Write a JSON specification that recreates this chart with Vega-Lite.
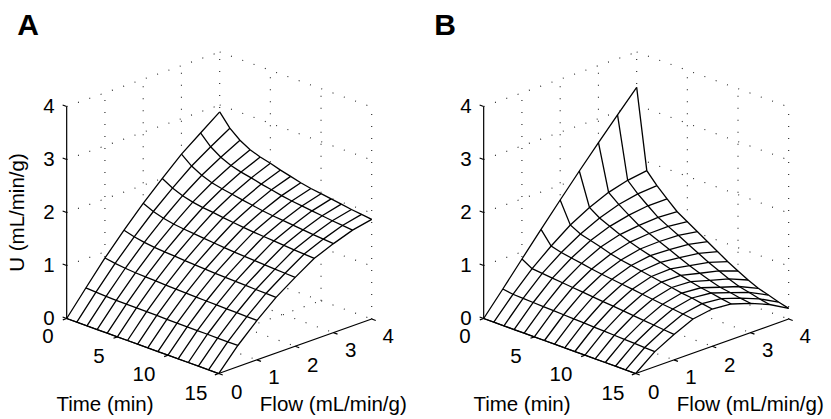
{"$schema":"https://vega.github.io/schema/vega-lite/v6.json","padding":0,"background":"white","config":{"view":{"stroke":null},"concat":{"spacing":0}},"bounds":"flush","spacing":0,
"datasets":{
"grid":[
{"line":"wu1","across":0,"height":1},{"line":"wu1","across":15.1,"height":2.028},
{"line":"wu2","across":0,"height":2},{"line":"wu2","across":15.1,"height":3.028},
{"line":"wu3","across":0,"height":3},{"line":"wu3","across":15.1,"height":4.028},
{"line":"wu4","across":0,"height":4},{"line":"wu4","across":15.1,"height":5.028},
{"line":"wf1","across":3.775,"height":0.257},{"line":"wf1","across":3.775,"height":4.257},
{"line":"wf2","across":7.55,"height":0.514},{"line":"wf2","across":7.55,"height":4.514},
{"line":"wf3","across":11.325,"height":0.771},{"line":"wf3","across":11.325,"height":4.771},
{"line":"wf4","across":15.1,"height":1.028},{"line":"wf4","across":15.1,"height":5.028},
{"line":"ru1","across":15.1,"height":2.028},{"line":"ru1","across":30.1,"height":0.99},
{"line":"ru2","across":15.1,"height":3.028},{"line":"ru2","across":30.1,"height":1.99},
{"line":"ru3","across":15.1,"height":4.028},{"line":"ru3","across":30.1,"height":2.99},
{"line":"ru4","across":15.1,"height":5.028},{"line":"ru4","across":30.1,"height":3.99},
{"line":"rt5","across":20.1,"height":0.682},{"line":"rt5","across":20.1,"height":4.682},
{"line":"rt10","across":25.1,"height":0.336},{"line":"rt10","across":25.1,"height":4.336},
{"line":"rt15","across":30.1,"height":-0.01},{"line":"rt15","across":30.1,"height":3.99},
{"line":"ft0","across":0,"height":0},{"line":"ft0","across":15.1,"height":1.028},
{"line":"ft5","across":5,"height":-0.346},{"line":"ft5","across":20.1,"height":0.682},
{"line":"ft10","across":10,"height":-0.692},{"line":"ft10","across":25.1,"height":0.336},
{"line":"ff1","across":3.775,"height":0.257},{"line":"ff1","across":18.775,"height":-0.781},
{"line":"ff2","across":7.55,"height":0.514},{"line":"ff2","across":22.55,"height":-0.524},
{"line":"ff3","across":11.325,"height":0.771},{"line":"ff3","across":26.325,"height":-0.267},
{"line":"ff4","across":15.1,"height":1.028},{"line":"ff4","across":30.1,"height":-0.01}
],
"axes":[
{"line":"U","across":0,"height":0},{"line":"U","across":0,"height":4},
{"line":"Time","across":0,"height":0},{"line":"Time","across":15,"height":-1.038},
{"line":"Flow","across":15,"height":-1.038},{"line":"Flow","across":30.1,"height":-0.01},
{"line":"u0","across":0,"height":0},{"line":"u0","across":-0.4,"height":0.028},
{"line":"u1","across":0,"height":1},{"line":"u1","across":-0.4,"height":1.028},
{"line":"u2","across":0,"height":2},{"line":"u2","across":-0.4,"height":2.028},
{"line":"u3","across":0,"height":3},{"line":"u3","across":-0.4,"height":3.028},
{"line":"u4","across":0,"height":4},{"line":"u4","across":-0.4,"height":4.028},
{"line":"t0","across":0,"height":0},{"line":"t0","across":-0.38,"height":-0.026},
{"line":"t5","across":5,"height":-0.346},{"line":"t5","across":4.62,"height":-0.372},
{"line":"t10","across":10,"height":-0.692},{"line":"t10","across":9.62,"height":-0.718},
{"line":"t15","across":15,"height":-1.038},{"line":"t15","across":14.62,"height":-1.064},
{"line":"f0","across":15,"height":-1.038},{"line":"f0","across":15.4,"height":-1.066},
{"line":"f1","across":18.775,"height":-0.781},{"line":"f1","across":19.175,"height":-0.809},
{"line":"f2","across":22.55,"height":-0.524},{"line":"f2","across":22.95,"height":-0.552},
{"line":"f3","across":26.325,"height":-0.267},{"line":"f3","across":26.725,"height":-0.295},
{"line":"f4","across":30.1,"height":-0.01},{"line":"f4","across":30.5,"height":-0.038}
],
"tickLabels":[
{"label":"0","across":-1.84,"height":-0.33},{"label":"5","across":3.19,"height":-0.69},{"label":"10","across":7.63,"height":-1.03},{"label":"15","across":12.76,"height":-1.39},
{"label":"0","across":16.78,"height":-1.38},{"label":"1","across":20.46,"height":-1.10},{"label":"2","across":24.28,"height":-0.86},{"label":"3","across":28.03,"height":-0.59},{"label":"4","across":31.74,"height":-0.33}
],
"axisTitles":[
{"label":"Time (min)","across":3.78,"height":-1.60},{"label":"Flow (mL/min/g)","across":26.31,"height":-1.61}
],
"panelLetters":[{"panel":"A","across":-3.82,"height":5.52},{"panel":"B","across":-3.82,"height":5.52}],
"outlineA":[
{"step":1,"across":0,"height":0},{"step":2,"across":1.89,"height":0.576},{"step":3,"across":3.78,"height":1.142},{"step":4,"across":5.66,"height":1.666},{"step":5,"across":7.55,"height":2.174},{"step":6,"across":9.44,"height":2.643},{"step":7,"across":11.33,"height":3.101},{"step":8,"across":13.21,"height":3.5},{"step":9,"across":15.1,"height":3.898},
{"step":10,"across":16.1,"height":3.591},{"step":11,"across":17.1,"height":3.364},{"step":12,"across":18.1,"height":3.185},{"step":13,"across":19.1,"height":3.047},{"step":14,"across":20.1,"height":2.928},{"step":15,"across":21.1,"height":2.8},{"step":16,"across":22.1,"height":2.681},{"step":17,"across":23.1,"height":2.562},{"step":18,"across":24.1,"height":2.453},{"step":19,"across":25.1,"height":2.355},{"step":20,"across":26.1,"height":2.256},{"step":21,"across":27.1,"height":2.157},{"step":22,"across":28.1,"height":2.057},{"step":23,"across":29.1,"height":1.964},{"step":24,"across":30.1,"height":1.87},
{"step":25,"across":28.21,"height":1.667},{"step":26,"across":26.33,"height":1.413},{"step":27,"across":24.44,"height":1.135},{"step":28,"across":22.55,"height":0.776},{"step":29,"across":20.66,"height":0.398},{"step":30,"across":18.78,"height":-0.036},{"step":31,"across":16.89,"height":-0.509},{"step":32,"across":15,"height":-1.038}
],
"outlineB":[
{"step":1,"across":0,"height":0},{"step":2,"across":1.89,"height":0.557},{"step":3,"across":3.78,"height":1.123},{"step":4,"across":5.66,"height":1.683},{"step":5,"across":7.55,"height":2.236},{"step":6,"across":9.44,"height":2.783},{"step":7,"across":11.33,"height":3.317},{"step":8,"across":13.21,"height":3.84},{"step":9,"across":15.1,"height":4.362},
{"step":10,"across":16.1,"height":2.789},{"step":11,"across":17.1,"height":2.506},{"step":12,"across":18.1,"height":2.255},{"step":13,"across":19.1,"height":2.015},{"step":14,"across":20.1,"height":1.826},{"step":15,"across":21.1,"height":1.638},{"step":16,"across":22.1,"height":1.449},{"step":17,"across":23.1,"height":1.26},{"step":18,"across":24.1,"height":1.072},{"step":19,"across":25.1,"height":0.896},{"step":20,"across":26.1,"height":0.726},{"step":21,"across":27.1,"height":0.569},{"step":22,"across":28.1,"height":0.443},{"step":23,"across":29.1,"height":0.311},{"step":24,"across":30.1,"height":0.192},
{"step":25,"across":28.21,"height":0.264},{"step":26,"across":26.33,"height":0.287},{"step":27,"across":24.44,"height":0.274},{"step":28,"across":22.55,"height":0.179},{"step":29,"across":20.66,"height":-0.009},{"step":30,"across":18.78,"height":-0.30},{"step":31,"across":16.89,"height":-0.625},{"step":32,"across":15,"height":-1.038}
],
"surfaceA":[
{"time":0,"flow":0,"across":0,"height":0},{"time":1,"flow":0,"across":1,"height":-0.069},{"time":2,"flow":0,"across":2,"height":-0.138},{"time":3,"flow":0,"across":3,"height":-0.208},{"time":4,"flow":0,"across":4,"height":-0.277},{"time":5,"flow":0,"across":5,"height":-0.346},{"time":6,"flow":0,"across":6,"height":-0.415},{"time":7,"flow":0,"across":7,"height":-0.484},{"time":8,"flow":0,"across":8,"height":-0.554},{"time":9,"flow":0,"across":9,"height":-0.623},{"time":10,"flow":0,"across":10,"height":-0.692},{"time":11,"flow":0,"across":11,"height":-0.761},{"time":12,"flow":0,"across":12,"height":-0.83},{"time":13,"flow":0,"across":13,"height":-0.9},{"time":14,"flow":0,"across":14,"height":-0.969},{"time":15,"flow":0,"across":15,"height":-1.038},
{"time":0,"flow":0.5,"across":1.89,"height":0.576},{"time":1,"flow":0.5,"across":2.89,"height":0.496},{"time":2,"flow":0.5,"across":3.89,"height":0.419},{"time":3,"flow":0.5,"across":4.89,"height":0.344},{"time":4,"flow":0.5,"across":5.89,"height":0.272},{"time":5,"flow":0.5,"across":6.89,"height":0.2},{"time":6,"flow":0.5,"across":7.89,"height":0.129},{"time":7,"flow":0.5,"across":8.89,"height":0.057},{"time":8,"flow":0.5,"across":9.89,"height":-0.015},{"time":9,"flow":0.5,"across":10.89,"height":-0.086},{"time":10,"flow":0.5,"across":11.89,"height":-0.156},{"time":11,"flow":0.5,"across":12.89,"height":-0.227},{"time":12,"flow":0.5,"across":13.89,"height":-0.297},{"time":13,"flow":0.5,"across":14.89,"height":-0.369},{"time":14,"flow":0.5,"across":15.89,"height":-0.439},{"time":15,"flow":0.5,"across":16.89,"height":-0.509},
{"time":0,"flow":1,"across":3.78,"height":1.142},{"time":1,"flow":1,"across":4.78,"height":1.039},{"time":2,"flow":1,"across":5.78,"height":0.948},{"time":3,"flow":1,"across":6.78,"height":0.863},{"time":4,"flow":1,"across":7.78,"height":0.784},{"time":5,"flow":1,"across":8.78,"height":0.708},{"time":6,"flow":1,"across":9.78,"height":0.63},{"time":7,"flow":1,"across":10.78,"height":0.554},{"time":8,"flow":1,"across":11.78,"height":0.477},{"time":9,"flow":1,"across":12.78,"height":0.403},{"time":10,"flow":1,"across":13.78,"height":0.33},{"time":11,"flow":1,"across":14.78,"height":0.256},{"time":12,"flow":1,"across":15.78,"height":0.183},{"time":13,"flow":1,"across":16.78,"height":0.109},{"time":14,"flow":1,"across":17.78,"height":0.036},{"time":15,"flow":1,"across":18.78,"height":-0.036},
{"time":0,"flow":1.5,"across":5.66,"height":1.666},{"time":1,"flow":1.5,"across":6.66,"height":1.542},{"time":2,"flow":1.5,"across":7.66,"height":1.436},{"time":3,"flow":1.5,"across":8.66,"height":1.341},{"time":4,"flow":1.5,"across":9.66,"height":1.256},{"time":5,"flow":1.5,"across":10.66,"height":1.175},{"time":6,"flow":1.5,"across":11.66,"height":1.092},{"time":7,"flow":1.5,"across":12.66,"height":1.012},{"time":8,"flow":1.5,"across":13.66,"height":0.93},{"time":9,"flow":1.5,"across":14.66,"height":0.852},{"time":10,"flow":1.5,"across":15.66,"height":0.776},{"time":11,"flow":1.5,"across":16.66,"height":0.7},{"time":12,"flow":1.5,"across":17.66,"height":0.624},{"time":13,"flow":1.5,"across":18.66,"height":0.547},{"time":14,"flow":1.5,"across":19.66,"height":0.473},{"time":15,"flow":1.5,"across":20.66,"height":0.398},
{"time":0,"flow":2,"across":7.55,"height":2.174},{"time":1,"flow":2,"across":8.55,"height":2.019},{"time":2,"flow":2,"across":9.55,"height":1.892},{"time":3,"flow":2,"across":10.55,"height":1.782},{"time":4,"flow":2,"across":11.55,"height":1.688},{"time":5,"flow":2,"across":12.55,"height":1.601},{"time":6,"flow":2,"across":13.55,"height":1.511},{"time":7,"flow":2,"across":14.55,"height":1.424},{"time":8,"flow":2,"across":15.55,"height":1.336},{"time":9,"flow":2,"across":16.55,"height":1.252},{"time":10,"flow":2,"across":17.55,"height":1.172},{"time":11,"flow":2,"across":18.55,"height":1.093},{"time":12,"flow":2,"across":19.55,"height":1.013},{"time":13,"flow":2,"across":20.55,"height":0.932},{"time":14,"flow":2,"across":21.55,"height":0.854},{"time":15,"flow":2,"across":22.55,"height":0.776},
{"time":0,"flow":2.5,"across":9.44,"height":2.643},{"time":1,"flow":2.5,"across":10.44,"height":2.461},{"time":2,"flow":2.5,"across":11.44,"height":2.317},{"time":3,"flow":2.5,"across":12.44,"height":2.195},{"time":4,"flow":2.5,"across":13.44,"height":2.093},{"time":5,"flow":2.5,"across":14.44,"height":2.001},{"time":6,"flow":2.5,"across":15.44,"height":1.904},{"time":7,"flow":2.5,"across":16.44,"height":1.811},{"time":8,"flow":2.5,"across":17.44,"height":1.718},{"time":9,"flow":2.5,"across":18.44,"height":1.63},{"time":10,"flow":2.5,"across":19.44,"height":1.547},{"time":11,"flow":2.5,"across":20.44,"height":1.464},{"time":12,"flow":2.5,"across":21.44,"height":1.381},{"time":13,"flow":2.5,"across":22.44,"height":1.296},{"time":14,"flow":2.5,"across":23.44,"height":1.216},{"time":15,"flow":2.5,"across":24.44,"height":1.135},
{"time":0,"flow":3,"across":11.33,"height":3.101},{"time":1,"flow":3,"across":12.33,"height":2.876},{"time":2,"flow":3,"across":13.33,"height":2.703},{"time":3,"flow":3,"across":14.33,"height":2.561},{"time":4,"flow":3,"across":15.33,"height":2.447},{"time":5,"flow":3,"across":16.33,"height":2.345},{"time":6,"flow":3,"across":17.33,"height":2.237},{"time":7,"flow":3,"across":18.33,"height":2.136},{"time":8,"flow":3,"across":19.33,"height":2.033},{"time":9,"flow":3,"across":20.33,"height":1.938},{"time":10,"flow":3,"across":21.33,"height":1.85},{"time":11,"flow":3,"across":22.33,"height":1.761},{"time":12,"flow":3,"across":23.33,"height":1.673},{"time":13,"flow":3,"across":24.33,"height":1.583},{"time":14,"flow":3,"across":25.33,"height":1.498},{"time":15,"flow":3,"across":26.33,"height":1.413},
{"time":0,"flow":3.5,"across":13.21,"height":3.5},{"time":1,"flow":3.5,"across":14.21,"height":3.24},{"time":2,"flow":3.5,"across":15.21,"height":3.044},{"time":3,"flow":3.5,"across":16.21,"height":2.887},{"time":4,"flow":3.5,"across":17.21,"height":2.762},{"time":5,"flow":3.5,"across":18.21,"height":2.653},{"time":6,"flow":3.5,"across":19.21,"height":2.536},{"time":7,"flow":3.5,"across":20.21,"height":2.428},{"time":8,"flow":3.5,"across":21.21,"height":2.318},{"time":9,"flow":3.5,"across":22.21,"height":2.217},{"time":10,"flow":3.5,"across":23.21,"height":2.124},{"time":11,"flow":3.5,"across":24.21,"height":2.031},{"time":12,"flow":3.5,"across":25.21,"height":1.939},{"time":13,"flow":3.5,"across":26.21,"height":1.845},{"time":14,"flow":3.5,"across":27.21,"height":1.756},{"time":15,"flow":3.5,"across":28.21,"height":1.667},
{"time":0,"flow":4,"across":15.1,"height":3.898},{"time":1,"flow":4,"across":16.1,"height":3.591},{"time":2,"flow":4,"across":17.1,"height":3.364},{"time":3,"flow":4,"across":18.1,"height":3.185},{"time":4,"flow":4,"across":19.1,"height":3.047},{"time":5,"flow":4,"across":20.1,"height":2.928},{"time":6,"flow":4,"across":21.1,"height":2.8},{"time":7,"flow":4,"across":22.1,"height":2.681},{"time":8,"flow":4,"across":23.1,"height":2.562},{"time":9,"flow":4,"across":24.1,"height":2.453},{"time":10,"flow":4,"across":25.1,"height":2.355},{"time":11,"flow":4,"across":26.1,"height":2.256},{"time":12,"flow":4,"across":27.1,"height":2.157},{"time":13,"flow":4,"across":28.1,"height":2.057},{"time":14,"flow":4,"across":29.1,"height":1.964},{"time":15,"flow":4,"across":30.1,"height":1.87}
],
"surfaceB":[
{"time":0,"flow":0,"across":0,"height":0},{"time":1,"flow":0,"across":1,"height":-0.069},{"time":2,"flow":0,"across":2,"height":-0.138},{"time":3,"flow":0,"across":3,"height":-0.208},{"time":4,"flow":0,"across":4,"height":-0.277},{"time":5,"flow":0,"across":5,"height":-0.346},{"time":6,"flow":0,"across":6,"height":-0.415},{"time":7,"flow":0,"across":7,"height":-0.484},{"time":8,"flow":0,"across":8,"height":-0.554},{"time":9,"flow":0,"across":9,"height":-0.623},{"time":10,"flow":0,"across":10,"height":-0.692},{"time":11,"flow":0,"across":11,"height":-0.761},{"time":12,"flow":0,"across":12,"height":-0.83},{"time":13,"flow":0,"across":13,"height":-0.9},{"time":14,"flow":0,"across":14,"height":-0.969},{"time":15,"flow":0,"across":15,"height":-1.038},
{"time":0,"flow":0.5,"across":1.89,"height":0.557},{"time":1,"flow":0.5,"across":2.89,"height":0.457},{"time":2,"flow":0.5,"across":3.89,"height":0.38},{"time":3,"flow":0.5,"across":4.89,"height":0.302},{"time":4,"flow":0.5,"across":5.89,"height":0.225},{"time":5,"flow":0.5,"across":6.89,"height":0.148},{"time":6,"flow":0.5,"across":7.89,"height":0.071},{"time":7,"flow":0.5,"across":8.89,"height":-0.007},{"time":8,"flow":0.5,"across":9.89,"height":-0.084},{"time":9,"flow":0.5,"across":10.89,"height":-0.161},{"time":10,"flow":0.5,"across":11.89,"height":-0.239},{"time":11,"flow":0.5,"across":12.89,"height":-0.316},{"time":12,"flow":0.5,"across":13.89,"height":-0.393},{"time":13,"flow":0.5,"across":14.89,"height":-0.47},{"time":14,"flow":0.5,"across":15.89,"height":-0.548},{"time":15,"flow":0.5,"across":16.89,"height":-0.625},
{"time":0,"flow":1,"across":3.78,"height":1.123},{"time":1,"flow":1,"across":4.78,"height":0.94},{"time":2,"flow":1,"across":5.78,"height":0.852},{"time":3,"flow":1,"across":6.78,"height":0.763},{"time":4,"flow":1,"across":7.78,"height":0.675},{"time":5,"flow":1,"across":8.78,"height":0.585},{"time":6,"flow":1,"across":9.78,"height":0.497},{"time":7,"flow":1,"across":10.78,"height":0.408},{"time":8,"flow":1,"across":11.78,"height":0.32},{"time":9,"flow":1,"across":12.78,"height":0.232},{"time":10,"flow":1,"across":13.78,"height":0.143},{"time":11,"flow":1,"across":14.78,"height":0.055},{"time":12,"flow":1,"across":15.78,"height":-0.035},{"time":13,"flow":1,"across":16.78,"height":-0.123},{"time":14,"flow":1,"across":17.78,"height":-0.212},{"time":15,"flow":1,"across":18.78,"height":-0.3},
{"time":0,"flow":1.5,"across":5.66,"height":1.683},{"time":1,"flow":1.5,"across":6.66,"height":1.368},{"time":2,"flow":1.5,"across":7.66,"height":1.245},{"time":3,"flow":1.5,"across":8.66,"height":1.142},{"time":4,"flow":1.5,"across":9.66,"height":1.04},{"time":5,"flow":1.5,"across":10.66,"height":0.934},{"time":6,"flow":1.5,"across":11.66,"height":0.835},{"time":7,"flow":1.5,"across":12.66,"height":0.741},{"time":8,"flow":1.5,"across":13.66,"height":0.646},{"time":9,"flow":1.5,"across":14.66,"height":0.553},{"time":10,"flow":1.5,"across":15.66,"height":0.458},{"time":11,"flow":1.5,"across":16.66,"height":0.364},{"time":12,"flow":1.5,"across":17.66,"height":0.269},{"time":13,"flow":1.5,"across":18.66,"height":0.18},{"time":14,"flow":1.5,"across":19.66,"height":0.085},{"time":15,"flow":1.5,"across":20.66,"height":-0.009},
{"time":0,"flow":2,"across":7.55,"height":2.236},{"time":1,"flow":2,"across":8.55,"height":1.765},{"time":2,"flow":2,"across":9.55,"height":1.595},{"time":3,"flow":2,"across":10.55,"height":1.472},{"time":4,"flow":2,"across":11.55,"height":1.349},{"time":5,"flow":2,"across":12.55,"height":1.218},{"time":6,"flow":2,"across":13.55,"height":1.104},{"time":7,"flow":2,"across":14.55,"height":1.001},{"time":8,"flow":2,"across":15.55,"height":0.896},{"time":9,"flow":2,"across":16.55,"height":0.793},{"time":10,"flow":2,"across":17.55,"height":0.688},{"time":11,"flow":2,"across":18.55,"height":0.585},{"time":12,"flow":2,"across":19.55,"height":0.48},{"time":13,"flow":2,"across":20.55,"height":0.387},{"time":14,"flow":2,"across":21.55,"height":0.282},{"time":15,"flow":2,"across":22.55,"height":0.179},
{"time":0,"flow":2.5,"across":9.44,"height":2.783},{"time":1,"flow":2.5,"across":10.44,"height":2.094},{"time":2,"flow":2.5,"across":11.44,"height":1.897},{"time":3,"flow":2.5,"across":12.44,"height":1.739},{"time":4,"flow":2.5,"across":13.44,"height":1.584},{"time":5,"flow":2.5,"across":14.44,"height":1.442},{"time":6,"flow":2.5,"across":15.44,"height":1.311},{"time":7,"flow":2.5,"across":16.44,"height":1.186},{"time":8,"flow":2.5,"across":17.44,"height":1.06},{"time":9,"flow":2.5,"across":18.44,"height":0.935},{"time":10,"flow":2.5,"across":19.44,"height":0.813},{"time":11,"flow":2.5,"across":20.44,"height":0.694},{"time":12,"flow":2.5,"across":21.44,"height":0.58},{"time":13,"flow":2.5,"across":22.44,"height":0.481},{"time":14,"flow":2.5,"across":23.44,"height":0.374},{"time":15,"flow":2.5,"across":24.44,"height":0.274},
{"time":0,"flow":3,"across":11.33,"height":3.317},{"time":1,"flow":3,"across":12.33,"height":2.38},{"time":2,"flow":3,"across":13.33,"height":2.152},{"time":3,"flow":3,"across":14.33,"height":1.951},{"time":4,"flow":3,"across":15.33,"height":1.756},{"time":5,"flow":3,"across":16.33,"height":1.604},{"time":6,"flow":3,"across":17.33,"height":1.453},{"time":7,"flow":3,"across":18.33,"height":1.3},{"time":8,"flow":3,"across":19.33,"height":1.147},{"time":9,"flow":3,"across":20.33,"height":0.997},{"time":10,"flow":3,"across":21.33,"height":0.854},{"time":11,"flow":3,"across":22.33,"height":0.718},{"time":12,"flow":3,"across":23.33,"height":0.59},{"time":13,"flow":3,"across":24.33,"height":0.49},{"time":14,"flow":3,"across":25.33,"height":0.383},{"time":15,"flow":3,"across":26.33,"height":0.287},
{"time":0,"flow":3.5,"across":13.21,"height":3.84},{"time":1,"flow":3.5,"across":14.21,"height":2.607},{"time":2,"flow":3.5,"across":15.21,"height":2.352},{"time":3,"flow":3.5,"across":16.21,"height":2.127},{"time":4,"flow":3.5,"across":17.21,"height":1.909},{"time":5,"flow":3.5,"across":18.21,"height":1.738},{"time":6,"flow":3.5,"across":19.21,"height":1.569},{"time":7,"flow":3.5,"across":20.21,"height":1.398},{"time":8,"flow":3.5,"across":21.21,"height":1.227},{"time":9,"flow":3.5,"across":22.21,"height":1.058},{"time":10,"flow":3.5,"across":23.21,"height":0.899},{"time":11,"flow":3.5,"across":24.21,"height":0.747},{"time":12,"flow":3.5,"across":25.21,"height":0.604},{"time":13,"flow":3.5,"across":26.21,"height":0.491},{"time":14,"flow":3.5,"across":27.21,"height":0.372},{"time":15,"flow":3.5,"across":28.21,"height":0.264},
{"time":0,"flow":4,"across":15.1,"height":4.362},{"time":1,"flow":4,"across":16.1,"height":2.789},{"time":2,"flow":4,"across":17.1,"height":2.506},{"time":3,"flow":4,"across":18.1,"height":2.255},{"time":4,"flow":4,"across":19.1,"height":2.015},{"time":5,"flow":4,"across":20.1,"height":1.826},{"time":6,"flow":4,"across":21.1,"height":1.638},{"time":7,"flow":4,"across":22.1,"height":1.449},{"time":8,"flow":4,"across":23.1,"height":1.26},{"time":9,"flow":4,"across":24.1,"height":1.072},{"time":10,"flow":4,"across":25.1,"height":0.896},{"time":11,"flow":4,"across":26.1,"height":0.726},{"time":12,"flow":4,"across":27.1,"height":0.569},{"time":13,"flow":4,"across":28.1,"height":0.443},{"time":14,"flow":4,"across":29.1,"height":0.311},{"time":15,"flow":4,"across":30.1,"height":0.192}
]
},
"hconcat":[
{"width":417,"height":419,
"encoding":{"x":{"field":"across","type":"quantitative","scale":{"domain":[-6.58,34.57],"nice":false,"zero":false},"axis":null},
"y":{"field":"height","type":"quantitative","scale":{"domain":[-1.896,6.009],"nice":false,"zero":false},"axis":{"orient":"left","offset":-66.7,"values":[0,1,2,3,4],"domain":false,"grid":false,"ticks":false,"labelPadding":12.5,"labelFont":"Liberation Sans","labelFontSize":20.5,"labelColor":"#000","title":"U (mL/min/g)","titleFont":"Liberation Sans","titleFontSize":20.5,"titleFontWeight":"normal","titleColor":"#000","titleX":-39,"titleY":212}}},
"layer":[
{"data":{"name":"grid"},"mark":{"type":"line","stroke":"#222","strokeWidth":1.1,"strokeDash":[1,11]},"encoding":{"detail":{"field":"line"}}},
{"data":{"name":"outlineA"},"mark":{"type":"line","stroke":null,"fill":"white"},"encoding":{"order":{"field":"step","type":"quantitative"}}},
{"data":{"name":"surfaceA"},"mark":{"type":"line","stroke":"#000","strokeWidth":1.3},"encoding":{"detail":{"field":"time"},"order":{"field":"flow","type":"quantitative"}}},
{"data":{"name":"surfaceA"},"mark":{"type":"line","stroke":"#000","strokeWidth":1.3},"encoding":{"detail":{"field":"flow"},"order":{"field":"time","type":"quantitative"}}},
{"data":{"name":"axes"},"mark":{"type":"line","stroke":"#000","strokeWidth":1.2},"encoding":{"detail":{"field":"line"}}},
{"data":{"name":"tickLabels"},"mark":{"type":"text","font":"Liberation Sans","fontSize":20.5,"color":"#000","align":"center","baseline":"middle","dy":1.5},"encoding":{"text":{"field":"label"}}},
{"data":{"name":"axisTitles"},"mark":{"type":"text","font":"Liberation Sans","fontSize":20.5,"color":"#000","align":"center","baseline":"middle","dy":1.5},"encoding":{"text":{"field":"label"}}},
{"data":{"name":"panelLetters"},"transform":[{"filter":{"field":"panel","equal":"A"}}],"mark":{"type":"text","font":"Liberation Sans","fontSize":30,"fontWeight":"bold","color":"#000","align":"center","baseline":"middle"},"encoding":{"text":{"field":"panel"}}}
]},
{"width":414,"height":419,
"encoding":{"x":{"field":"across","type":"quantitative","scale":{"domain":[-6.58,34.277],"nice":false,"zero":false},"axis":null},
"y":{"field":"height","type":"quantitative","scale":{"domain":[-1.896,6.009],"nice":false,"zero":false},"axis":{"orient":"left","offset":-66.7,"values":[0,1,2,3,4],"domain":false,"grid":false,"ticks":false,"labelPadding":12.5,"labelFont":"Liberation Sans","labelFontSize":20.5,"labelColor":"#000","title":null}}},
"layer":[
{"data":{"name":"grid"},"mark":{"type":"line","stroke":"#222","strokeWidth":1.1,"strokeDash":[1,11]},"encoding":{"detail":{"field":"line"}}},
{"data":{"name":"outlineB"},"mark":{"type":"line","stroke":null,"fill":"white"},"encoding":{"order":{"field":"step","type":"quantitative"}}},
{"data":{"name":"surfaceB"},"mark":{"type":"line","stroke":"#000","strokeWidth":1.3},"encoding":{"detail":{"field":"time"},"order":{"field":"flow","type":"quantitative"}}},
{"data":{"name":"surfaceB"},"mark":{"type":"line","stroke":"#000","strokeWidth":1.3},"encoding":{"detail":{"field":"flow"},"order":{"field":"time","type":"quantitative"}}},
{"data":{"name":"axes"},"mark":{"type":"line","stroke":"#000","strokeWidth":1.2},"encoding":{"detail":{"field":"line"}}},
{"data":{"name":"tickLabels"},"mark":{"type":"text","font":"Liberation Sans","fontSize":20.5,"color":"#000","align":"center","baseline":"middle","dy":1.5},"encoding":{"text":{"field":"label"}}},
{"data":{"name":"axisTitles"},"mark":{"type":"text","font":"Liberation Sans","fontSize":20.5,"color":"#000","align":"center","baseline":"middle","dy":1.5},"encoding":{"text":{"field":"label"}}},
{"data":{"name":"panelLetters"},"transform":[{"filter":{"field":"panel","equal":"B"}}],"mark":{"type":"text","font":"Liberation Sans","fontSize":30,"fontWeight":"bold","color":"#000","align":"center","baseline":"middle"},"encoding":{"text":{"field":"panel"}}}
]}
]}
